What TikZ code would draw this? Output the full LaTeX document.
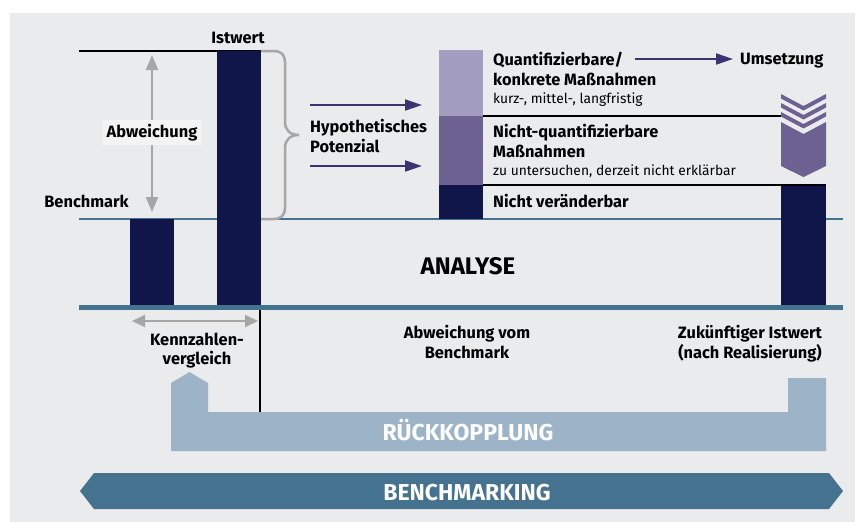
\documentclass[tikz,border=0pt]{standalone}
\usepackage{fontspec}
\setmainfont{Fira Sans}
\usetikzlibrary{arrows.meta}

\definecolor{bggray}{HTML}{EAEBED}
\definecolor{navy}{HTML}{10154A}
\definecolor{lilalight}{HTML}{A39EC0}
\definecolor{lilamid}{HTML}{6C6191}
\definecolor{lilaarrow}{HTML}{3C3470}
\definecolor{steel}{HTML}{45728F}
\definecolor{feedback}{HTML}{9DB3C8}
\definecolor{arrowgray}{HTML}{A6A6A6}
\definecolor{labelbg}{HTML}{F3F3F4}

\tikzset{
  lbl/.style={font=\bfseries\fontsize{16.4}{20}\selectfont, inner sep=0pt, anchor=base},
  lblw/.style={lbl, anchor=base west},
  note/.style={font=\fontsize{13.8}{16}\selectfont, inner sep=0pt, anchor=base west},
  band/.style={font=\bfseries\fontsize{23}{26}\selectfont, text=white, inner sep=0pt, anchor=base},
  grayarrow/.style={draw=arrowgray, line width=2pt, {Triangle[width=12pt,length=15pt]}-{Triangle[width=12pt,length=15pt]}},
  lilaarrow/.style={draw=lilaarrow, line width=2pt, -{Triangle[width=11pt,length=17pt]}},
}

\begin{document}
\begin{tikzpicture}[x=1pt, y=-1pt]
    \useasboundingbox (0,0) rectangle (855,522);
    \fill[white] (0,0) rectangle (855,522);
    \fill[bggray] (10,13) rectangle (855,522);

    % levels
    \draw[line width=2pt] (79,51) -- (261,51);
    \draw[steel, line width=2pt] (79,219) -- (843,219);

    % bars
    \fill[navy] (130,219) rectangle (174,307);
    \fill[navy] (217,51) rectangle (261,307);
    \fill[lilalight] (439,50) rectangle (483,116);
    \fill[lilamid] (439,116) rectangle (483,185);
    \fill[navy] (439,185) rectangle (483,219);
    \fill[navy] (781,185) rectangle (826,307);
    \draw[line width=2pt] (483,116) -- (781,116);
    \draw[line width=2pt] (483,185) -- (826,185);

    % chevrons
    \foreach \dy in {0,9,18}
        \fill[lilamid] (781,94+\dy) -- (803.5,106+\dy) -- (826,94+\dy) -- (826,98.5+\dy) -- (803.5,110.5+\dy) -- (781,98.5+\dy) -- cycle;
    \fill[lilamid] (781,122) -- (803.5,134) -- (826,122) -- (826,166) -- (803.5,177) -- (781,166) -- cycle;

    \draw[steel, line width=5pt] (79,307.5) -- (843,307.5);
    \draw[line width=2pt] (260,310) -- (260,413);

    % brace
    \draw[arrowgray, line width=2.5pt] (261,51) -- (274,51) .. controls (281,51) and (285,55) .. (285,62) -- (285,122)
        .. controls (285,130) and (290,135) .. (299,135) .. controls (290,135) and (285,140) .. (285,148) -- (285,208)
        .. controls (285,215) and (281,219) .. (274,219) -- (261,219);

    % arrows
    \coordinate (abwtop) at (152,55);
    \coordinate (abwbot) at (152,212);
    \draw[grayarrow] (abwtop) -- (abwbot);
    \coordinate (kvleft) at (132,321);
    \coordinate (kvright) at (258,321);
    \draw[grayarrow, {Triangle[width=12pt,length=13pt]}-{Triangle[width=12pt,length=13pt]}] (kvleft) -- (kvright);
    \coordinate (hyp1s) at (310,105);
    \coordinate (hyp1e) at (422,105);
    \coordinate (hyp2s) at (310,166);
    \coordinate (hyp2e) at (422,166);
    \draw[lilaarrow] (hyp1s) -- (hyp1e);
    \draw[lilaarrow] (hyp2s) -- (hyp2e);
    \coordinate (ums) at (635,59);
    \coordinate (ume) at (733,59);
    \draw[lilaarrow] (ums) -- (ume);

    % labels
    \node[lbl] (istwert) at (238,43) {Istwert};
    \node[lbl, fill=labelbg, inner xsep=4pt, inner ysep=4pt] (abweichung) at (152,137) {Abweichung};
    \node[lbl, anchor=base east] (benchmark) at (129,207) {Benchmark};
    \node[lblw] (hyp1) at (310,132) {Hypothetisches};
    \node[lblw] (hyp2) at (310,152) {Potenzial};
    \node[lblw] (quant1) at (493,65) {Quantifizierbare/};
    \node[lblw] (quant2) at (493,85) {konkrete Maßnahmen};
    \node[note] (quant3) at (493,103) {kurz-, mittel-, langfristig};
    \node[lblw] (nquant1) at (493,137) {Nicht-quantifizierbare};
    \node[lblw] (nquant2) at (493,157) {Maßnahmen};
    \node[note] (nquant3) at (493,175) {zu untersuchen, derzeit nicht erklärbar};
    \node[lblw] (fix) at (493,207) {Nicht veränderbar};
    \node[lblw] (umsetzung) at (740,64) {Umsetzung};
    \node[lbl, font=\bfseries\fontsize{24}{28}\selectfont] (analyse) at (468,274) {ANALYSE};

    \node[lbl] (kv1) at (197,345) {Kennzahlen-};
    \node[lbl] (kv2) at (197,364) {vergleich};
    \node[lbl] (avb1) at (467,338) {Abweichung vom};
    \node[lbl] (avb2) at (467,358) {Benchmark};
    \node[lbl] (zuk1) at (750,338) {Zukünftiger Istwert};
    \node[lbl] (zuk2) at (750,358) {(nach Realisierung)};

    % feedback and benchmarking bands
    \fill[feedback] (171,451) -- (171,383) -- (189.5,372) -- (208,383) -- (208,412) -- (788,412) -- (788,378) -- (826,378) -- (826,451) -- cycle;
    \node[band] (rueck) at (468,440) {RÜCKKOPPLUNG};
    \fill[steel] (80,491) -- (94,473) -- (829,473) -- (843,491) -- (829,509) -- (94,509) -- cycle;
    \node[band] (bm) at (467,500) {BENCHMARKING};
\end{tikzpicture}
\end{document}
